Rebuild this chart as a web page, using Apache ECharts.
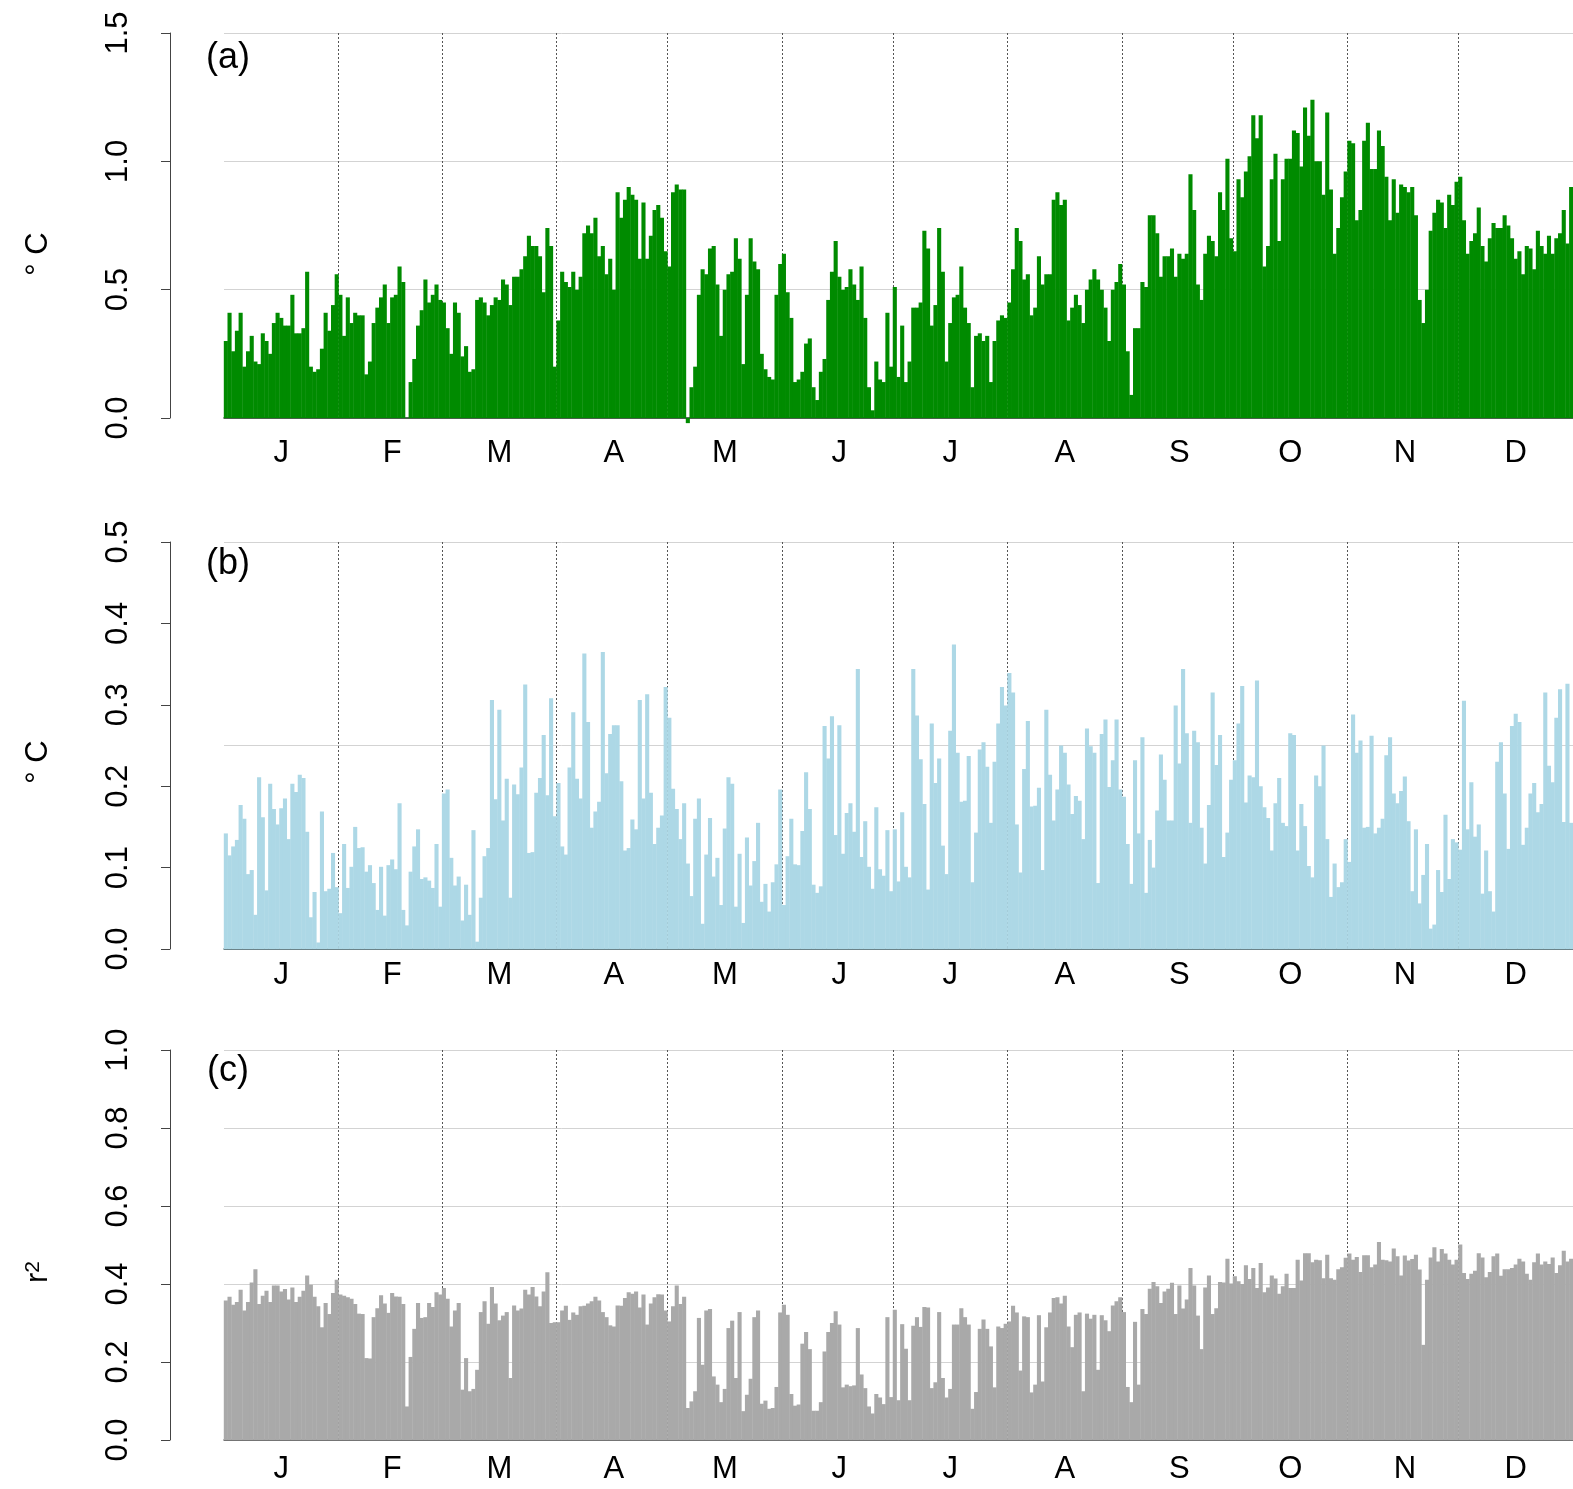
<!DOCTYPE html>
<html><head><meta charset="utf-8">
<script src="https://cdn.jsdelivr.net/npm/echarts@6/dist/echarts.min.js"></script>
<style>html,body{margin:0;padding:0;background:#fff}#c{width:1573px;height:1489px}</style>
</head><body><div id="c"></div>
<script>
const monthLetters = ['J','F','M','A','M','J','J','A','S','O','N','D'];
const monthLengths = [31,28,31,30,31,30,31,31,30,31,30,31];
const panelNames = ['(a)','(b)','(c)'];
const axisTitles = ['° C','° C','{r|r}{s|2}'];

const panelA = [
0.30,0.41,0.26,0.34,0.41,0.20,0.26,0.32,0.22,0.21,0.33,0.30,0.25,0.37,0.41,0.39,0.36,0.36,0.48,0.33,0.33,0.35,0.57,0.20,0.18,0.19,0.27,0.41,0.34,0.44,0.56,
0.48,0.32,0.47,0.37,0.41,0.40,0.40,0.17,0.22,0.37,0.43,0.47,0.52,0.37,0.47,0.48,0.59,0.53,0.00,0.14,0.23,0.36,0.42,0.54,0.45,0.48,0.52,0.46,
0.45,0.35,0.25,0.45,0.41,0.24,0.28,0.18,0.19,0.46,0.47,0.45,0.40,0.44,0.47,0.46,0.54,0.52,0.44,0.55,0.55,0.58,0.63,0.71,0.67,0.67,0.63,0.49,0.74,0.67,0.20,
0.38,0.57,0.53,0.51,0.57,0.50,0.55,0.72,0.75,0.72,0.78,0.63,0.67,0.56,0.62,0.50,0.88,0.78,0.85,0.90,0.87,0.85,0.62,0.84,0.62,0.71,0.81,0.83,0.78,0.65,
0.59,0.88,0.91,0.89,0.89,-0.02,0.12,0.20,0.48,0.58,0.56,0.66,0.67,0.52,0.32,0.50,0.56,0.57,0.70,0.62,0.21,0.48,0.70,0.61,0.58,0.25,0.19,0.16,0.15,0.48,0.60,
0.64,0.49,0.39,0.14,0.15,0.18,0.29,0.31,0.12,0.07,0.18,0.23,0.46,0.57,0.69,0.55,0.50,0.51,0.58,0.52,0.46,0.59,0.39,0.12,0.03,0.22,0.15,0.14,0.41,0.20,
0.51,0.16,0.36,0.14,0.22,0.43,0.43,0.45,0.73,0.66,0.36,0.44,0.74,0.57,0.22,0.37,0.47,0.48,0.59,0.43,0.37,0.12,0.32,0.33,0.30,0.32,0.14,0.30,0.38,0.40,0.39,
0.45,0.58,0.74,0.69,0.54,0.56,0.40,0.43,0.63,0.52,0.56,0.56,0.85,0.88,0.83,0.85,0.38,0.43,0.48,0.44,0.37,0.50,0.54,0.58,0.54,0.50,0.43,0.30,0.50,0.53,0.60,
0.52,0.26,0.09,0.35,0.35,0.53,0.51,0.79,0.79,0.72,0.55,0.63,0.63,0.66,0.55,0.64,0.62,0.64,0.95,0.81,0.52,0.46,0.64,0.71,0.69,0.63,0.88,0.81,1.01,0.70,
0.65,0.93,0.86,0.96,1.02,1.18,1.09,1.18,0.59,0.67,0.93,1.03,0.69,0.93,1.01,1.01,1.12,1.11,0.98,1.21,1.10,1.24,1.00,1.00,0.87,1.19,0.89,0.64,0.74,0.86,0.96,
1.08,1.07,0.77,0.81,1.08,1.15,0.97,0.97,1.12,1.06,0.94,0.77,0.93,0.80,0.91,0.90,0.88,0.90,0.79,0.46,0.37,0.50,0.73,0.80,0.85,0.84,0.74,0.87,0.83,0.92,
0.94,0.77,0.64,0.69,0.72,0.82,0.67,0.61,0.70,0.76,0.74,0.74,0.79,0.75,0.70,0.62,0.65,0.56,0.67,0.66,0.58,0.73,0.67,0.64,0.71,0.64,0.70,0.72,0.81,0.68,0.90
];

const panelB = [
0.142,0.115,0.126,0.134,0.177,0.160,0.092,0.097,0.042,0.211,0.162,0.072,0.203,0.172,0.153,0.173,0.185,0.135,0.203,0.193,0.214,0.210,0.144,0.039,0.070,0.008,0.169,0.071,0.074,0.118,0.076,
0.044,0.129,0.075,0.101,0.150,0.124,0.125,0.095,0.103,0.081,0.048,0.101,0.041,0.103,0.110,0.098,0.179,0.048,0.029,0.095,0.126,0.147,0.086,0.088,0.084,0.075,0.129,0.052,
0.191,0.196,0.112,0.078,0.089,0.035,0.079,0.042,0.146,0.009,0.063,0.114,0.124,0.306,0.184,0.294,0.158,0.209,0.063,0.202,0.190,0.223,0.325,0.118,0.119,0.192,0.210,0.263,0.189,0.308,0.163,
0.204,0.126,0.116,0.223,0.291,0.209,0.185,0.363,0.279,0.149,0.169,0.181,0.365,0.216,0.264,0.275,0.275,0.206,0.121,0.124,0.159,0.147,0.306,0.185,0.313,0.192,0.129,0.149,0.164,0.322,
0.284,0.197,0.172,0.135,0.179,0.105,0.065,0.160,0.185,0.031,0.116,0.161,0.089,0.112,0.054,0.148,0.211,0.203,0.052,0.117,0.032,0.137,0.078,0.108,0.155,0.058,0.080,0.046,0.082,0.104,0.196,
0.054,0.114,0.160,0.104,0.103,0.145,0.217,0.172,0.079,0.069,0.077,0.274,0.234,0.286,0.140,0.275,0.117,0.167,0.179,0.144,0.344,0.113,0.157,0.101,0.074,0.174,0.098,0.090,0.146,0.071,
0.147,0.083,0.168,0.101,0.088,0.344,0.287,0.233,0.178,0.073,0.277,0.204,0.234,0.127,0.092,0.268,0.374,0.241,0.181,0.182,0.237,0.082,0.143,0.245,0.254,0.224,0.155,0.230,0.277,0.322,0.299,
0.339,0.315,0.153,0.094,0.221,0.280,0.175,0.176,0.198,0.097,0.294,0.214,0.158,0.196,0.250,0.241,0.202,0.166,0.188,0.182,0.135,0.271,0.249,0.241,0.081,0.264,0.282,0.199,0.232,0.282,0.196,
0.187,0.129,0.080,0.232,0.142,0.260,0.069,0.134,0.100,0.170,0.239,0.208,0.158,0.158,0.299,0.228,0.344,0.265,0.155,0.268,0.254,0.149,0.105,0.177,0.315,0.226,0.263,0.113,0.143,0.208,
0.232,0.277,0.323,0.180,0.213,0.211,0.330,0.200,0.174,0.161,0.121,0.179,0.210,0.155,0.151,0.265,0.263,0.121,0.178,0.151,0.102,0.088,0.213,0.200,0.250,0.135,0.064,0.105,0.076,0.082,0.135,
0.107,0.288,0.241,0.256,0.149,0.150,0.262,0.142,0.149,0.160,0.238,0.260,0.191,0.179,0.194,0.212,0.157,0.071,0.147,0.056,0.091,0.129,0.025,0.030,0.097,0.070,0.165,0.086,0.135,0.131,
0.122,0.305,0.147,0.205,0.138,0.153,0.068,0.121,0.071,0.046,0.230,0.254,0.191,0.123,0.274,0.289,0.279,0.128,0.149,0.191,0.204,0.168,0.178,0.315,0.225,0.205,0.284,0.319,0.156,0.326,0.155
];

const panelC = [
0.358,0.367,0.347,0.354,0.385,0.332,0.354,0.404,0.438,0.349,0.370,0.383,0.354,0.396,0.396,0.381,0.387,0.360,0.391,0.354,0.367,0.383,0.422,0.398,0.367,0.343,0.289,0.351,0.323,0.377,0.411,
0.373,0.370,0.366,0.362,0.349,0.324,0.323,0.210,0.209,0.315,0.338,0.371,0.350,0.326,0.377,0.368,0.367,0.349,0.086,0.213,0.285,0.351,0.313,0.315,0.351,0.341,0.379,0.373,
0.390,0.362,0.291,0.332,0.351,0.129,0.210,0.125,0.131,0.180,0.328,0.356,0.298,0.392,0.350,0.307,0.319,0.328,0.159,0.345,0.332,0.337,0.385,0.373,0.392,0.368,0.343,0.381,0.430,0.300,0.302,
0.302,0.332,0.344,0.308,0.327,0.321,0.343,0.344,0.350,0.356,0.367,0.358,0.328,0.315,0.294,0.291,0.345,0.344,0.364,0.379,0.375,0.381,0.340,0.373,0.296,0.350,0.366,0.374,0.373,0.332,
0.304,0.343,0.396,0.349,0.367,0.082,0.099,0.125,0.313,0.193,0.332,0.336,0.163,0.142,0.097,0.131,0.287,0.306,0.159,0.328,0.074,0.116,0.157,0.315,0.332,0.093,0.101,0.080,0.082,0.136,0.327,
0.347,0.321,0.118,0.088,0.091,0.247,0.277,0.233,0.075,0.075,0.097,0.227,0.277,0.300,0.330,0.296,0.135,0.142,0.138,0.140,0.287,0.168,0.133,0.086,0.068,0.118,0.109,0.092,0.315,0.110,
0.334,0.102,0.297,0.234,0.102,0.293,0.315,0.290,0.341,0.340,0.133,0.148,0.328,0.159,0.109,0.131,0.296,0.296,0.338,0.315,0.296,0.080,0.123,0.285,0.309,0.285,0.240,0.135,0.291,0.287,0.298,
0.304,0.344,0.327,0.178,0.317,0.315,0.122,0.142,0.320,0.150,0.289,0.327,0.364,0.366,0.350,0.370,0.291,0.238,0.321,0.327,0.125,0.324,0.311,0.321,0.180,0.320,0.307,0.279,0.345,0.356,0.366,
0.328,0.136,0.097,0.303,0.142,0.336,0.323,0.388,0.405,0.394,0.351,0.381,0.388,0.403,0.323,0.396,0.337,0.360,0.441,0.396,0.319,0.233,0.391,0.422,0.323,0.338,0.405,0.404,0.465,0.401,
0.420,0.407,0.400,0.448,0.413,0.441,0.390,0.454,0.379,0.391,0.422,0.414,0.375,0.394,0.426,0.390,0.390,0.462,0.409,0.479,0.479,0.456,0.462,0.461,0.415,0.475,0.415,0.411,0.438,0.443,0.467,
0.478,0.462,0.469,0.431,0.474,0.474,0.443,0.450,0.508,0.462,0.461,0.458,0.491,0.471,0.422,0.473,0.460,0.464,0.475,0.437,0.244,0.411,0.468,0.494,0.458,0.490,0.478,0.462,0.450,0.462,
0.501,0.428,0.413,0.426,0.434,0.479,0.468,0.417,0.431,0.471,0.478,0.421,0.438,0.438,0.441,0.450,0.465,0.458,0.426,0.411,0.456,0.478,0.450,0.458,0.451,0.468,0.428,0.448,0.485,0.458,0.465
];

// ---- derived category data ----
const days = [];
const monthStarts = [];
const monthMid = {};
let s = 0;
monthLengths.forEach((L, m) => {
  monthStarts.push(s);
  monthMid[Math.round(s + L / 2 - 0.5)] = monthLetters[m];
  for (let d = 1; d <= L; d++) days.push((m + 1) + '-' + d);
  s += L;
});

const FONT = "'Liberation Sans', Arial, Helvetica, sans-serif";
const grids = [
  {left: 224, top: 33, width: 1349, height: 385},
  {left: 224, top: 542, width: 1349, height: 407},
  {left: 224, top: 1050, width: 1349, height: 390}
];
const barColors = ['#008B00', '#ADD8E6', '#A9A9A9'];
const baseColors = ['#1e3a1e', '#4a6a72', '#555555'];
const labelMargins = [20, 11, 14];
const yRanges = [{min: 0, max: 1.5, interval: 0.5}, {min: 0, max: 0.5, interval: 0.1}, {min: 0, max: 1, interval: 0.2}];
const gridSteps = [0.5, 0.25, 0.2];
const seriesData = [panelA, panelB, panelC];

const xAxes = grids.map((g, i) => ({
  type: 'category', gridIndex: i, data: days, boundaryGap: true,
  axisLine: {show: true, onZero: false, lineStyle: {color: baseColors[i], width: 1.5}},
  axisTick: {show: false},
  axisLabel: {
    interval: (idx) => monthMid[idx] !== undefined,
    formatter: (v, idx) => monthMid[idx] || '',
    fontSize: 31, color: '#000', fontFamily: FONT, margin: labelMargins[i]
  },
  splitLine: {show: true, interval: (idx) => idx > 0 && monthStarts.indexOf(idx) >= 0,
    lineStyle: {color: '#555', type: [2, 2], width: 1}}
}));

const yAxes = [];
grids.forEach((g, i) => {
  yAxes.push({
    type: 'value', gridIndex: i, min: yRanges[i].min, max: yRanges[i].max, interval: yRanges[i].interval,
    offset: 54, position: 'left',
    axisLine: {show: true, lineStyle: {color: '#444', width: 1}},
    axisTick: {show: true, length: 9, lineStyle: {color: '#444', width: 1}},
    axisLabel: {rotate: 90, margin: 36, fontSize: 31, color: '#000', fontFamily: FONT,
      formatter: (v) => v.toFixed(1)},
    splitLine: {show: false}
  });
  yAxes.push({
    type: 'value', gridIndex: i, min: yRanges[i].min, max: yRanges[i].max, interval: gridSteps[i],
    position: 'left', axisLine: {show: false}, axisTick: {show: false}, axisLabel: {show: false},
    splitLine: {show: true, lineStyle: {color: '#d3d3d3', width: 1}}
  });
});

const series = seriesData.map((d, i) => ({
  type: 'bar', xAxisIndex: i, yAxisIndex: i * 2, data: d,
  barWidth: 4.1, barGap: '-100%', clip: false,
  itemStyle: {color: barColors[i]},
  emphasis: {disabled: true}, silent: true, z: 1
}));

const graphics = [];
const panelLabelY = [58, 564, 1071];
const titleY = [254, 762, 1272];
panelNames.forEach((t, i) => {
  graphics.push({type: 'text', x: 228, y: panelLabelY[i], z: 100,
    style: {text: t, font: '36px ' + FONT, fill: '#000', textAlign: 'center', textVerticalAlign: 'middle'}});
  graphics.push({type: 'text', x: 38, y: titleY[i], rotation: Math.PI / 2, z: 100,
    style: {text: axisTitles[i], font: '31px ' + FONT, fill: '#000', textAlign: 'center', textVerticalAlign: 'middle',
      rich: {r: {fontSize: 31, fontFamily: FONT}, s: {fontSize: 21, fontFamily: FONT, verticalAlign: 'top', padding: [0, 0, 10, 0]}}}});
});

const chart = echarts.init(document.getElementById('c'), null, {renderer: 'canvas'});
chart.setOption({
  animation: false,
  backgroundColor: '#fff',
  grid: grids,
  xAxis: xAxes,
  yAxis: yAxes,
  series: series,
  graphic: graphics
});
</script></body></html>
